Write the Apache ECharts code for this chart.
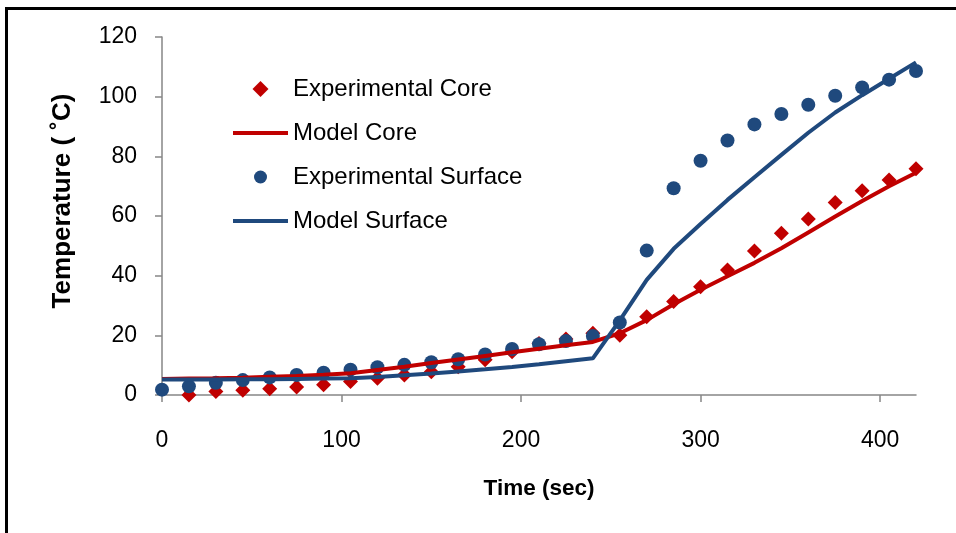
<!DOCTYPE html>
<html>
<head>
<meta charset="utf-8">
<script src="https://cdn.jsdelivr.net/npm/echarts@6/dist/echarts.min.js"></script>
<style>
html,body{margin:0;padding:0;background:#fff;}
#chart{width:956px;height:533px;}
</style>
</head>
<body>
<div id="chart"></div>
<script>
// ---- data ----
const coreTime = [15,30,45,60,75,90,105,120,135,150,165,180,195,210,225,240,255,270,285,300,315,330,345,360,375,390,405,420];
const expCore  = [0.0,1.2,1.6,2.1,2.7,3.4,4.5,5.6,6.7,7.8,9.5,11.8,14.5,17.3,18.8,20.7,20.0,26.2,31.3,36.3,41.9,48.3,54.2,59.0,64.5,68.5,72.1,75.8];

const surfTime = [0,15,30,45,60,75,90,105,120,135,150,165,180,195,210,225,240,255,270,285,300,315,330,345,360,375,390,405,420];
const expSurf  = [1.8,2.9,4.1,5.0,5.9,6.7,7.5,8.5,9.3,10.1,11.0,12.0,13.6,15.4,17.0,18.1,19.8,24.3,48.4,69.3,78.5,85.3,90.7,94.2,97.3,100.3,103.1,105.7,108.6];

const modelTime = [0,15,30,45,60,75,90,105,120,135,150,165,180,195,210,225,240,255,270,285,300,315,330,345,360,375,390,405,420];
const modelCore = [5.4,5.5,5.6,5.8,6.1,6.4,6.8,7.3,8.4,9.5,10.7,11.9,13.1,14.3,15.5,16.7,17.8,20.7,25.1,30.4,35.3,39.8,44.3,49.2,54.5,59.8,65.0,70.0,74.5];
const modelSurf = [5.2,5.2,5.2,5.3,5.3,5.4,5.5,5.6,6.0,6.6,7.2,7.9,8.6,9.4,10.3,11.3,12.3,25.0,38.6,49.0,57.3,65.4,73.0,80.5,87.9,94.7,100.5,106.0,111.5];

const xTicks = [0,100,200,300,400];
const seriesNames = ['Experimental Core','Model Core','Experimental Surface','Model Surface'];
const xTitle = 'Time (sec)';
const yTitle = 'Temperature ( ˚C)';

// ---- chart ----
const RED = '#C00000', BLUE = '#1F497D';
const FONT = 'Liberation Sans';
const pairs = (xs, ys) => xs.map((x, i) => [x, ys[i]]);
const DIAMOND = 'path://M0,-7.5L7.5,0L0,7.5L-7.5,0Z';
const DOT = 'path://M-8,-8M8,8M-6.5,0A6.5,6.5,0,1,0,6.5,0A6.5,6.5,0,1,0,-6.5,0Z';
const BAR = 'path://M0,0H55V4H0Z';

const chart = echarts.init(document.getElementById('chart'), null, {renderer: 'canvas'});
chart.setOption({
  animation: false,
  backgroundColor: '#fff',
  grid: {left: 162, right: 40, top: 37, bottom: 138, containLabel: false},
  legend: {
    orient: 'vertical', left: 228, top: 72,
    itemWidth: 55, itemHeight: 16, itemGap: 20,
    symbolKeepAspect: true,
    textStyle: {fontFamily: FONT, fontSize: 24, color: '#000', lineHeight: 24},
    data: [
      {name: seriesNames[0], icon: DIAMOND, itemStyle: {color: RED, opacity: 1, borderWidth: 0}},
      {name: seriesNames[1], icon: BAR, itemStyle: {color: RED, opacity: 1, borderWidth: 0}},
      {name: seriesNames[2], icon: DOT, itemStyle: {color: BLUE, opacity: 1, borderWidth: 0}},
      {name: seriesNames[3], icon: BAR, itemStyle: {color: BLUE, opacity: 1, borderWidth: 0}}
    ]
  },
  xAxis: {
    type: 'value', min: 0, max: 420, interval: 100,
    name: xTitle, nameLocation: 'middle', nameGap: 82,
    nameTextStyle: {fontFamily: FONT, fontSize: 22.5, fontWeight: 'bold', color: '#000'},
    axisLine: {show: true, lineStyle: {color: '#868686', width: 1.5}},
    axisTick: {show: true, length: 7, lineStyle: {color: '#868686', width: 1.5}, customValues: xTicks},
    axisLabel: {margin: 34, fontFamily: FONT, fontSize: 23, color: '#000', customValues: xTicks},
    splitLine: {show: false}
  },
  yAxis: {
    type: 'value', min: 0, max: 120, interval: 20,
    axisLine: {show: true, lineStyle: {color: '#868686', width: 1.5}},
    axisTick: {show: true, length: 7, lineStyle: {color: '#868686', width: 1.5}},
    axisLabel: {margin: 25, fontFamily: FONT, fontSize: 23, color: '#000'},
    splitLine: {show: false}
  },
  series: [
    {name: seriesNames[0], type: 'scatter', symbol: 'diamond', symbolSize: 15,
     itemStyle: {color: RED, opacity: 1}, data: pairs(coreTime, expCore)},
    {name: seriesNames[1], type: 'line', symbol: 'none', smooth: false,
     lineStyle: {color: RED, width: 4}, itemStyle: {color: RED}, data: pairs(modelTime, modelCore)},
    {name: seriesNames[2], type: 'scatter', symbol: 'circle', symbolSize: 14,
     itemStyle: {color: BLUE, opacity: 1}, data: pairs(surfTime, expSurf)},
    {name: seriesNames[3], type: 'line', symbol: 'none', smooth: false,
     lineStyle: {color: BLUE, width: 4}, itemStyle: {color: BLUE}, data: pairs(modelTime, modelSurf)}
  ],
  graphic: [
    {type: 'rect', shape: {x: 5, y: 7, width: 951, height: 3}, style: {fill: '#000'}, silent: true},
    {type: 'rect', shape: {x: 5, y: 7, width: 3, height: 526}, style: {fill: '#000'}, silent: true},
    {type: 'text', x: 63, y: 201, rotation: Math.PI / 2,
     style: {text: yTitle, fontFamily: FONT, fontSize: 26, fontWeight: 'bold', fill: '#000',
             align: 'center', verticalAlign: 'middle'}, silent: true}
  ]
});
</script>
</body>
</html>
